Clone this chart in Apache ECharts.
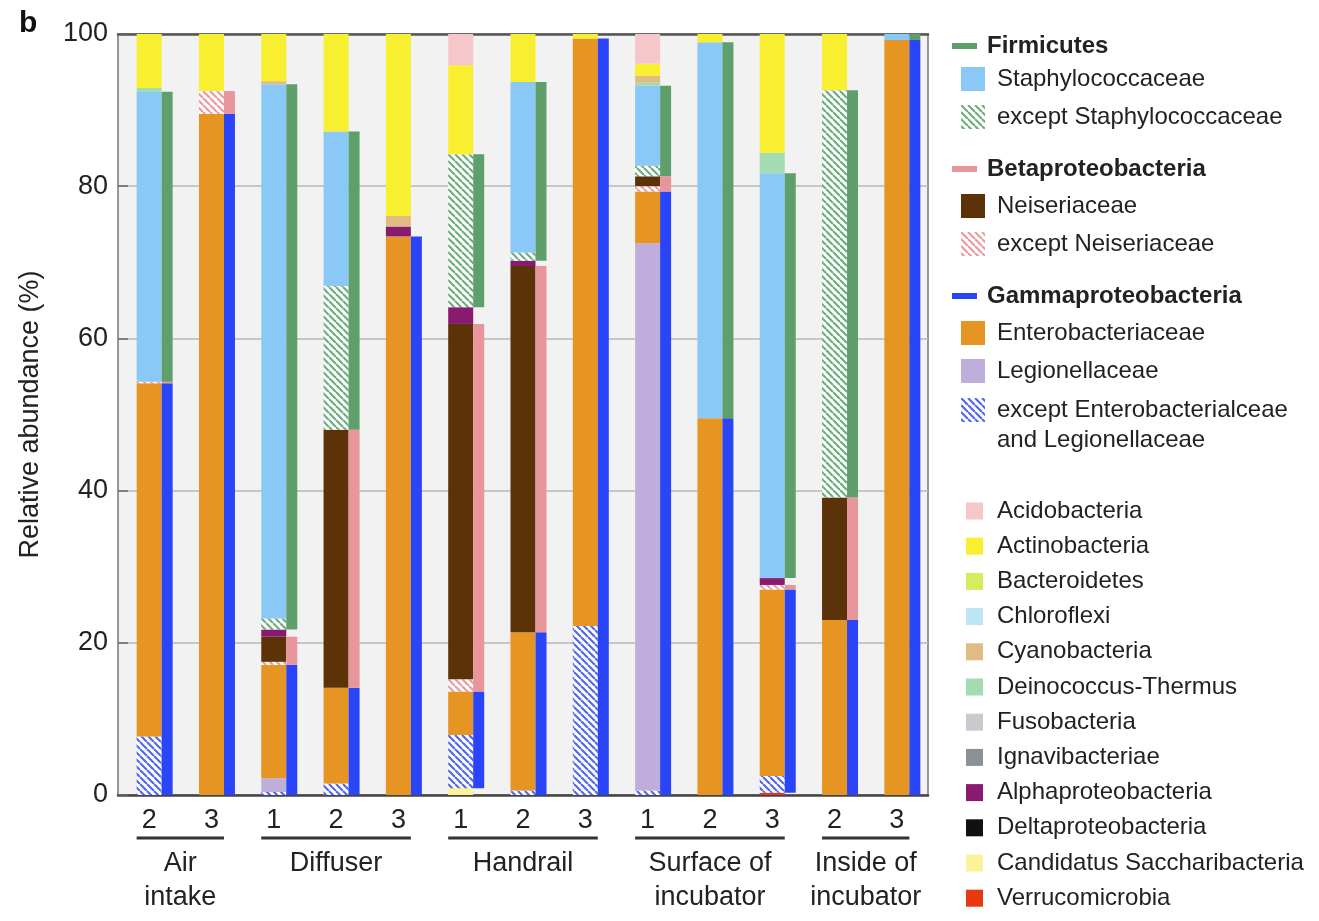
<!DOCTYPE html>
<html>
<head>
<meta charset="utf-8">
<script src="https://cdn.jsdelivr.net/npm/echarts@6/dist/echarts.min.js"></script>
<style>
  html, body { margin: 0; padding: 0; background: #fff; }
  #chart { width: 1319px; height: 921px; }
</style>
</head>
<body>
<div id="chart"></div>
<script>
// samples (x categories)
var sampleIds = ['AI2', 'AI3', 'D1', 'D2', 'D3', 'H1', 'H2', 'H3', 'S1', 'S2', 'S3', 'I2', 'I3'];
var sampleNums = ['2', '3', '1', '2', '3', '1', '2', '3', '1', '2', '3', '2', '3'];
// sample groups
var groupNames = ['Air\nintake', 'Diffuser', 'Handrail', 'Surface of\nincubator', 'Inside of\nincubator'];
var groupFirst = [0, 2, 5, 8, 11];
var groupLast = [1, 4, 7, 10, 12];

// relative abundance (%), bottom of the stack first
var verrucomicrobia = [0, 0, 0, 0, 0, 0, 0, 0, 0, 0, 0.3, 0, 0];
var saccharibacteria = [0, 0, 0, 0, 0, 0.9, 0, 0, 0, 0, 0, 0, 0];
var deltaproteo = [0, 0, 0, 0, 0, 0, 0, 0, 0, 0, 0, 0, 0];
var exceptEntLeg = [7.7, 0, 0.4, 1.5, 0, 7.0, 0.6, 22.2, 0.6, 0, 2.2, 0, 0];
var legionellaceae = [0, 0, 1.8, 0, 0, 0, 0, 0, 71.9, 0, 0, 0, 0];
var enterobacteriaceae = [46.4, 89.5, 14.9, 12.6, 73.4, 5.7, 20.8, 77.2, 6.8, 49.5, 24.5, 23.0, 99.2];
var exceptNeis = [0.2, 3.0, 0.4, 0, 0, 1.6, 0, 0, 0.7, 0, 0.6, 0, 0];
var neiseriaceae = [0, 0, 3.3, 33.9, 0, 46.7, 48.1, 0, 1.3, 0, 0, 16.1, 0];
var alphaproteo = [0, 0, 0.95, 0, 1.3, 2.2, 0.7, 0, 0, 0, 0.9, 0, 0];
var exceptStaph = [0, 0, 1.45, 18.9, 0, 20.1, 1.1, 0, 1.4, 0, 0, 53.5, 0];
var staphylococcaceae = [38.1, 0, 70.2, 20.3, 0, 0, 22.4, 0, 10.5, 49.4, 53.2, 0, 0.8];
var ignavibacteriae = [0, 0, 0, 0, 0, 0, 0, 0, 0, 0, 0, 0, 0];
var fusobacteria = [0, 0, 0, 0, 0, 0, 0, 0, 0, 0, 0, 0, 0];
var deinococcus = [0.5, 0, 0, 0, 0, 0, 0, 0, 0.4, 0, 2.7, 0, 0];
var cyanobacteria = [0, 0, 0.4, 0, 1.4, 0, 0, 0, 0.9, 0, 0, 0, 0];
var chloroflexi = [0, 0, 0, 0, 0, 0, 0, 0, 0, 0, 0, 0, 0];
var bacteroidetes = [0, 0, 0, 0, 0, 0, 0, 0, 0, 0, 0, 0, 0];
var actinobacteria = [7.1, 7.5, 6.2, 12.8, 23.9, 11.7, 6.3, 0.6, 1.6, 1.1, 15.6, 7.4, 0];
var acidobacteria = [0, 0, 0, 0, 0, 4.1, 0, 0, 3.9, 0, 0, 0, 0];

var FONT = 'Liberation Sans, Arial, sans-serif';

// diagonal hatch fill
function hatch(color) {
  var c = document.createElement('canvas');
  c.width = 7; c.height = 7;
  var g = c.getContext('2d');
  g.fillStyle = '#ffffff';
  g.fillRect(0, 0, 7, 7);
  g.strokeStyle = color;
  g.lineWidth = 2.2;
  g.beginPath();
  for (var k = -1; k <= 1; k++) {
    g.moveTo(k * 7, 0);
    g.lineTo(k * 7 + 7, 7);
  }
  g.stroke();
  return { image: c, repeat: 'repeat' };
}

var families = [
  ['Verrucomicrobia', verrucomicrobia, '#e8380f'],
  ['Candidatus Saccharibacteria', saccharibacteria, '#fbf39a'],
  ['Deltaproteobacteria', deltaproteo, '#111111'],
  ['except Enterobacterialceae\nand Legionellaceae', exceptEntLeg, hatch('#5468f0')],
  ['Legionellaceae', legionellaceae, '#bfaedb'],
  ['Enterobacteriaceae', enterobacteriaceae, '#e69523'],
  ['except Neiseriaceae', exceptNeis, hatch('#eb9aa0')],
  ['Neiseriaceae', neiseriaceae, '#5c3309'],
  ['Alphaproteobacteria', alphaproteo, '#881b70'],
  ['except Staphylococcaceae', exceptStaph, hatch('#6fad80')],
  ['Staphylococcaceae', staphylococcaceae, '#8ac8f8'],
  ['Ignavibacteriae', ignavibacteriae, '#8b9196'],
  ['Fusobacteria', fusobacteria, '#c9c9d0'],
  ['Deinococcus-Thermus', deinococcus, '#a2dcb0'],
  ['Cyanobacteria', cyanobacteria, '#e2bb84'],
  ['Chloroflexi', chloroflexi, '#bde5f6'],
  ['Bacteroidetes', bacteroidetes, '#d6ec5e'],
  ['Actinobacteria', actinobacteria, '#f7ef30'],
  ['Acidobacteria', acidobacteria, '#f6c7ca']
];

function sum() {
  var arrs = arguments;
  return sampleIds.map(function (s, i) {
    var t = 0;
    for (var k = 0; k < arrs.length; k++) t += arrs[k][i];
    return +t.toFixed(2);
  });
}

// phylum side bars (narrow), aligned with their families
var phyla = [
  ['lowGap', sum(verrucomicrobia, saccharibacteria, deltaproteo), 'rgba(0,0,0,0)'],
  ['Gammaproteobacteria', sum(exceptEntLeg, legionellaceae, enterobacteriaceae), '#2a44f8'],
  ['Betaproteobacteria', sum(exceptNeis, neiseriaceae), '#e9959c'],
  ['midGap', sum(alphaproteo), 'rgba(0,0,0,0)'],
  ['Firmicutes', sum(exceptStaph, staphylococcaceae), '#5e9f6c']
];

var series = [{ type: 'bar', name: 'pad', stack: 'pad', barWidth: 11, barGap: '0%', data: [], silent: true }];
families.forEach(function (f) {
  series.push({
    type: 'bar', name: f[0], stack: 'fam', barWidth: 25, barGap: '0%',
    data: f[1], itemStyle: { color: f[2] }, emphasis: { disabled: true }
  });
});
phyla.forEach(function (p) {
  series.push({
    type: 'bar', name: p[0], stack: 'phy', barWidth: 11, barGap: '0%',
    data: p[1], itemStyle: { color: p[2] }, emphasis: { disabled: true },
    silent: p[0].indexOf('Gap') > 0
  });
});

function legend(top, left, names, w, h, gap, opts) {
  opts = opts || {};
  var l = {
    orient: 'vertical', top: top, left: left, padding: 0,
    itemWidth: w, itemHeight: h, itemGap: gap, icon: 'rect',
    selectedMode: false, data: names,
    textStyle: {
      fontFamily: FONT, fontSize: 24, color: '#222',
      fontWeight: opts.bold ? 'bold' : 'normal',
      lineHeight: opts.lineHeight || h,
      padding: opts.padding || [0, 0, 0, 7]
    }
  };
  if (opts.formatter) l.formatter = opts.formatter;
  return l;
}

var option = {
  animation: false,
  title: { text: 'b', left: 14, top: 4, textStyle: { fontFamily: FONT, fontSize: 30, fontWeight: 'bold', color: '#111' } },
  grid: {
    left: 118, right: 391, top: 34, bottom: 126, show: true,
    backgroundColor: '#f2f2f2', borderColor: '#777', borderWidth: 1.5
  },
  legend: [
    legend(34, 952, ['Firmicutes'], 25, 6, 0, { bold: true, padding: [0, 0, 0, 5] }),
    legend(67, 961, ['Staphylococcaceae', 'except Staphylococcaceae'], 24, 24, 14),
    legend(157, 952, ['Betaproteobacteria'], 25, 6, 0, { bold: true, padding: [0, 0, 0, 5] }),
    legend(194, 961, ['Neiseriaceae', 'except Neiseriaceae'], 24, 24, 14),
    legend(284, 952, ['Gammaproteobacteria'], 25, 6, 0, { bold: true, padding: [0, 0, 0, 5] }),
    legend(321, 961, ['Enterobacteriaceae', 'Legionellaceae'], 24, 24, 14),
    legend(365, 961, ['except Enterobacterialceae\nand Legionellaceae'], 24, 24, 0, {
      lineHeight: 30, formatter: function (name) { return ' \n' + name; }
    }),
    legend(499, 966, ['Acidobacteria', 'Actinobacteria', 'Bacteroidetes', 'Chloroflexi', 'Cyanobacteria',
      'Deinococcus-Thermus', 'Fusobacteria', 'Ignavibacteriae', 'Alphaproteobacteria', 'Deltaproteobacteria',
      'Candidatus Saccharibacteria', 'Verrucomicrobia'], 17, 17, 11.2, { padding: [0, 0, 0, 9] })
  ],
  xAxis: [{
    type: 'category', data: sampleIds,
    axisLine: { lineStyle: { color: '#444', width: 2.5 } },
    axisTick: { show: false },
    axisLabel: {
      fontFamily: FONT, fontSize: 27, color: '#222', margin: 12,
      formatter: function (v, i) { return sampleNums[i]; }
    }
  }, {
    type: 'category', data: sampleIds, position: 'top',
    axisLine: { lineStyle: { color: '#555', width: 2.5 } },
    axisTick: { show: false }, axisLabel: { show: false }
  }],
  yAxis: {
    type: 'value', min: 0, max: 100, interval: 20,
    name: 'Relative abundance (%)', nameLocation: 'middle', nameGap: 74,
    nameTextStyle: { fontFamily: FONT, fontSize: 27, color: '#222' },
    axisLine: { show: false },
    axisTick: { show: true, inside: true, length: 10, lineStyle: { color: '#666', width: 1.5 } },
    axisLabel: { fontFamily: FONT, fontSize: 27, color: '#222', margin: 10 },
    splitLine: { lineStyle: { color: '#b8b8b8', width: 1.5 } }
  },
  series: series
};

var chart = echarts.init(document.getElementById('chart'));
chart.setOption(option);

// group underlines and names, placed from the axis scale
var y0 = chart.convertToPixel({ yAxisIndex: 0 }, 0);
var gfx = [];
groupNames.forEach(function (name, i) {
  var x1 = chart.convertToPixel({ xAxisIndex: 0 }, groupFirst[i]) - 12.5;
  var x2 = chart.convertToPixel({ xAxisIndex: 0 }, groupLast[i]) + 12.5;
  gfx.push({ type: 'line', shape: { x1: x1, y1: y0 + 43, x2: x2, y2: y0 + 43 }, style: { stroke: '#333', lineWidth: 3 } });
  gfx.push({
    type: 'text', x: (x1 + x2) / 2, y: y0 + 52,
    style: { text: name, fill: '#222', fontFamily: FONT, fontSize: 27, align: 'center', verticalAlign: 'top', lineHeight: 34 }
  });
});
chart.setOption({ graphic: gfx });
</script>
</body>
</html>
